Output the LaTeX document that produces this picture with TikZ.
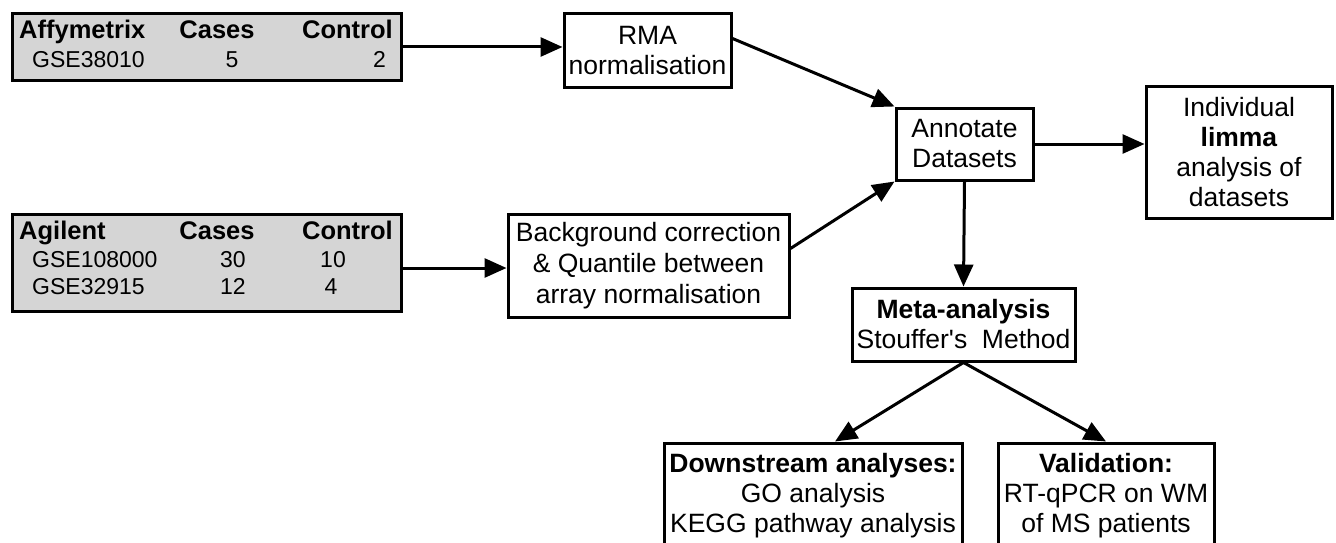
\documentclass[tikz,border=0pt]{standalone}
\usepackage{fontspec}
\setmainfont{Liberation Sans}[Ligatures=TeXOff]
\usetikzlibrary{arrows.meta,calc}
\definecolor{tablegray}{HTML}{D5D5D5}
\begin{document}
\begin{tikzpicture}[x=1pt,y=-1pt,
  box/.style={draw,line width=3pt,inner sep=0pt,align=center,font=\fontsize{26.5}{30}\selectfont},
  tbl/.style={draw,line width=3pt,fill=tablegray,inner sep=0pt},
  cell/.style={inner sep=0pt,font=\fontsize{23}{27}\selectfont},
  hd/.style={inner sep=0pt,font=\fontsize{25.5}{30}\selectfont\bfseries},
  arr/.style={line width=3pt,-{Triangle[length=22pt,width=19pt]}}]
\useasboundingbox (0,0) rectangle (1336,543);
\clip (0,0) rectangle (1336,543);
\fill[white] (0,0) rectangle (1336,543);

% tables
\node[tbl,minimum width=389pt,minimum height=67pt] (affy) at (206.5,47) {};
\node[hd,anchor=mid west] (affyh) at (19,36) {Affymetrix};
\node[hd,anchor=mid] (affyc) at (217,36) {Cases};
\node[hd,anchor=mid east] (affyk) at (393,36) {Control};
\node[cell,anchor=mid west] (affy1) at (32,65) {GSE38010};
\node[cell,anchor=mid] (affy1c) at (232,65) {5};
\node[cell,anchor=mid east] (affy1k) at (386,65) {2};

\node[tbl,minimum width=389pt,minimum height=97pt] (agil) at (206.5,262.5) {};
\node[hd,anchor=mid west] (agilh) at (19,237) {Agilent};
\node[hd,anchor=mid] (agilc) at (217,237) {Cases};
\node[hd,anchor=mid east] (agilk) at (393,237) {Control};
\node[cell,anchor=mid west] (agil1) at (32,265) {GSE108000};
\node[cell,anchor=mid] (agil1c) at (233,265) {30};
\node[cell,anchor=mid] (agil1k) at (333,265) {10};
\node[cell,anchor=mid west] (agil2) at (32,292) {GSE32915};
\node[cell,anchor=mid] (agil2c) at (233,292) {12};
\node[cell,anchor=mid] (agil2k) at (331,292) {4};

% process boxes
\node[box,minimum width=167pt,minimum height=73pt] (rma) at (647.5,50.5) {RMA\\normalisation};
\node[box,minimum width=281pt,minimum height=103pt,font=\fontsize{26.5}{31}\selectfont] (bg) at (648.5,265.5) {Background correction\\\& Quantile between\\array normalisation};
\node[box,minimum width=137pt,minimum height=72pt] (ann) at (964.5,144) {Annotate\\Datasets};
\node[box,minimum width=186pt,minimum height=132pt] (ind) at (1239,152) {Individual\\\textbf{limma}\\analysis of\\datasets};
\node[box,minimum width=223pt,minimum height=73pt] (meta) at (963.5,324.5) {\textbf{Meta-analysis}\\Stouffer's~~Method};
\node[box,minimum width=298pt,minimum height=106pt] (down) at (813,496) {\textbf{Downstream analyses:}\\GO analysis\\KEGG pathway analysis};
\node[box,minimum width=216pt,minimum height=106pt] (val) at (1106,496) {\textbf{Validation:}\\RT-qPCR on WM\\of MS patients};

% connectors
\coordinate (rmaout) at ($(rma.east)+(0,-12)$);
\coordinate (bgout) at ($(bg.east)+(0,-17)$);
\coordinate (agout) at ($(agil.east)+(0,5.5)$);
\coordinate (downin) at ($(down.north)+(22,0)$);
\draw[arr] (affy.east) -- (affy.east -| rma.west);
\draw[arr] (agout) -- (agout -| bg.west);
\draw[arr] (rmaout) -- (ann.north west);
\draw[arr] (bgout) -- (ann.south west);
\draw[arr] (ann.east) -- (ann.east -| ind.west);
\draw[arr] (ann.south) -- (meta.north);
\draw[arr] (meta.south) -- (downin);
\draw[arr] (meta.south) -- (val.north);
\end{tikzpicture}
\end{document}
